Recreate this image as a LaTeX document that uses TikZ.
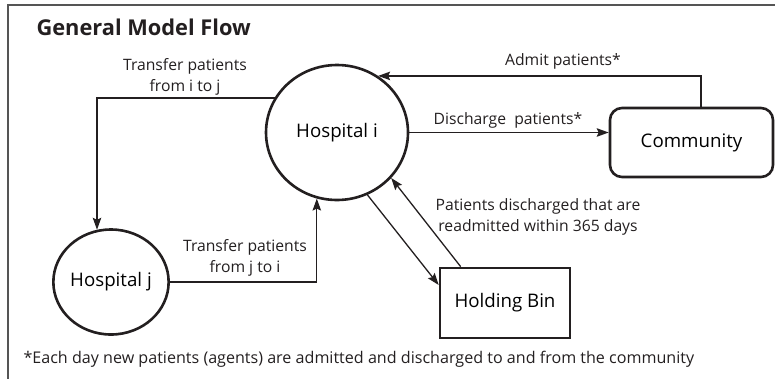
\documentclass[tikz,border=0pt]{standalone}
\usepackage{fontspec}
\setmainfont{Open Sans}
\definecolor{Ink}{RGB}{35, 31, 32}
\definecolor{FrameGray}{RGB}{85, 85, 85}
\usepackage{tikz}
\usetikzlibrary{arrows.meta, positioning, shapes, calc}

\begin{document}
\begin{tikzpicture}[x=1pt, y=-1pt,
    hosp/.style={ellipse, draw=Ink, line width=2.6pt, inner sep=0pt, font=\fontsize{18.7}{22}\selectfont},
    boxnode/.style={draw=Ink, line width=2.6pt, inner sep=0pt, font=\fontsize{18.7}{22}\selectfont},
    lab/.style={text=Ink, align=center, font=\fontsize{15.7}{21}\selectfont},
    flow/.style={draw=Ink, line width=1.3pt, -{Stealth[length=12pt, width=8.5pt, inset=2pt]}}]
            \useasboundingbox (0,0) rectangle (775,378);
            % frame and title
            \draw[FrameGray, line width=1.5pt] (8,390) -- (8,5) -- (790,5);
            \node[anchor=base west, text=Ink, font=\fontsize{21.8}{24}\selectfont\bfseries] (title) at (33,35) {General Model Flow};

            % nodes
            \node[hosp, minimum width=142pt, minimum height=135pt] (hi) at (337,132.5) {Hospital i};
            \node[hosp, minimum width=112pt, minimum height=105pt] (hj) at (111,282) {Hospital j};
            \node[boxnode, rounded corners=12pt, minimum width=163pt, minimum height=69pt] (comm) at (691.5,142.5) {Community};
            \node[boxnode, minimum width=130pt, minimum height=70pt] (bin) at (505,303) {Holding Bin};

            % community flows
            \draw[flow] ([xshift=9.5pt]comm.north) |- (hi.54);
            \node[lab] (admit) at (563,61) {Admit patients*};
            \draw[flow] (hi.east) -- (hi.east -| comm.west);
            \node[lab] (disch) at (508,120) {Discharge\ \ patients*};

            % transfers
            \draw[flow] (hi.151) -| (hj.105);
            \node[lab] (tij) at (185,77) {Transfer patients\\from i to j};
            \draw[flow] (hj.east) -| (hi.253);
            \node[lab] (tji) at (245,258) {Transfer patients\\from j to i};

            % readmissions
            \draw[flow] (hi.296) -- ([yshift=18pt]bin.west);
            \draw[flow] ([xshift=22pt]bin.north west) -- (hi.320);
            \node[lab] (readm) at (538,217) {Patients discharged that are\\readmitted within 365 days};

            % footnote
            \node[lab, anchor=base west, font=\fontsize{16.1}{21}\selectfont] (note) at (20,363) {*Each day new patients (agents) are admitted and discharged to and from the community};
        \end{tikzpicture}
\end{document}
